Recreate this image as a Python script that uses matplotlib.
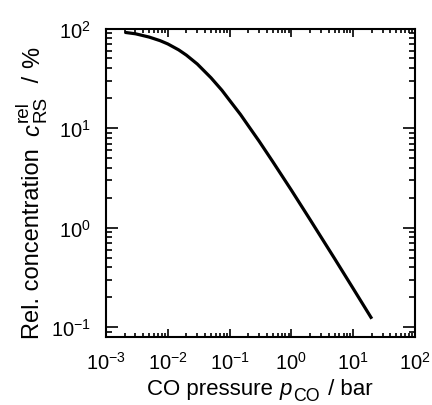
import matplotlib
matplotlib.use("Agg")
import matplotlib.pyplot as plt
from matplotlib.ticker import LogLocator, NullFormatter
from matplotlib.transforms import IdentityTransform

plt.rcParams['font.family'] = ['Liberation Sans', 'DejaVu Sans']
plt.rcParams['mathtext.fontset'] = 'custom'
plt.rcParams['mathtext.rm'] = 'Liberation Sans'
plt.rcParams['mathtext.it'] = 'Liberation Sans:italic'
plt.rcParams['mathtext.bf'] = 'Liberation Sans:bold'

# CO pressure (bar) and relative concentration (%)
pressure = [0.002, 0.003, 0.005, 0.0075, 0.01, 0.015, 0.02, 0.03, 0.05, 0.075,
            0.1, 0.15, 0.2, 0.3, 0.5, 1.0, 2.0, 5.0, 10.0, 20.0]
concentration = [91.5, 88.5, 82, 75.5, 70, 61, 54, 44, 32, 24,
                 19, 13.7, 10.6, 7.4, 4.6, 2.38, 1.21, 0.49, 0.245, 0.122]

W, H = 432, 406
DPI = 100
fig = plt.figure(figsize=(W / DPI, H / DPI), dpi=DPI)
left, right, top, bottom = 106, 415, 29.5, 338
ax = fig.add_axes([left / W, 1 - bottom / H, (right - left) / W, (bottom - top) / H])

ax.plot(pressure, concentration, color='black', lw=2.3, solid_capstyle='butt')

ax.set_xscale('log')
ax.set_yscale('log')
ax.set_xlim(1e-3, 1e2)
ax.set_ylim(0.08, 100)

ax.xaxis.set_major_locator(LogLocator(base=10, numticks=10))
ax.yaxis.set_major_locator(LogLocator(base=10, numticks=10))
ax.xaxis.set_minor_locator(LogLocator(base=10, subs=range(2, 10), numticks=20))
ax.yaxis.set_minor_locator(LogLocator(base=10, subs=range(2, 10), numticks=20))
ax.xaxis.set_minor_formatter(NullFormatter())
ax.yaxis.set_minor_formatter(NullFormatter())

for s in ax.spines.values():
    s.set_linewidth(1.5)

ax.tick_params(which='both', direction='in', top=True, right=True, width=1.2,
               labelsize=14.5)
ax.tick_params(axis='x', which='major', length=6, pad=10)
ax.tick_params(axis='x', which='minor', length=3.2)
ax.tick_params(axis='y', which='major', length=8.5, pad=11)
ax.tick_params(axis='y', which='minor', length=4.2)

renderer = fig.canvas.get_renderer()


def chain(groups, center, base, rotation):
    """Place text pieces one after another, centred on `center`
    (display pixels, y measured from the top)."""
    placed = []
    pos = 0.0
    for group, gap in groups:
        adv = 0.0
        for txt, size, style, dbase in group:
            shift = dbase * size * DPI / 72.0
            t = fig.text(0, 0, txt, transform=IdentityTransform(), fontsize=size,
                         fontstyle=style, rotation=rotation, rotation_mode='anchor',
                         ha='left', va='baseline')
            bb = t.get_window_extent(renderer)
            adv = max(adv, bb.width if rotation == 0 else bb.height)
            placed.append((t, pos, shift))
        pos += adv + gap
    start = center - pos / 2.0
    for t, p, shift in placed:
        if rotation == 0:
            t.set_position((start + p, H - base + shift))
        else:
            t.set_position((base - shift, H - (center + pos / 2.0) + p))


FS = 16
SS = 0.8 * FS
chain([([('CO pressure ', FS, 'normal', 0)], 0),
       ([('p', FS, 'italic', 0)], 1.5),
       ([('CO', SS, 'normal', -0.33)], 2),
       ([(' / bar', FS, 'normal', 0)], 0)], 260, 395, 0)

FY = 17
SY = 0.8 * FY
chain([([('Rel. concentration ', FY, 'normal', 0)], 5),
       ([('c', FY, 'italic', 0)], 2),
       ([('RS', SY, 'normal', -0.36), ('rel', SY, 'normal', 0.62)], 7),
       ([(' / ', FY, 'normal', 0)], 1),
       ([('%', FY, 'normal', 0)], 0)], 193, 39, 90)

fig.savefig('out.png', dpi=DPI)
